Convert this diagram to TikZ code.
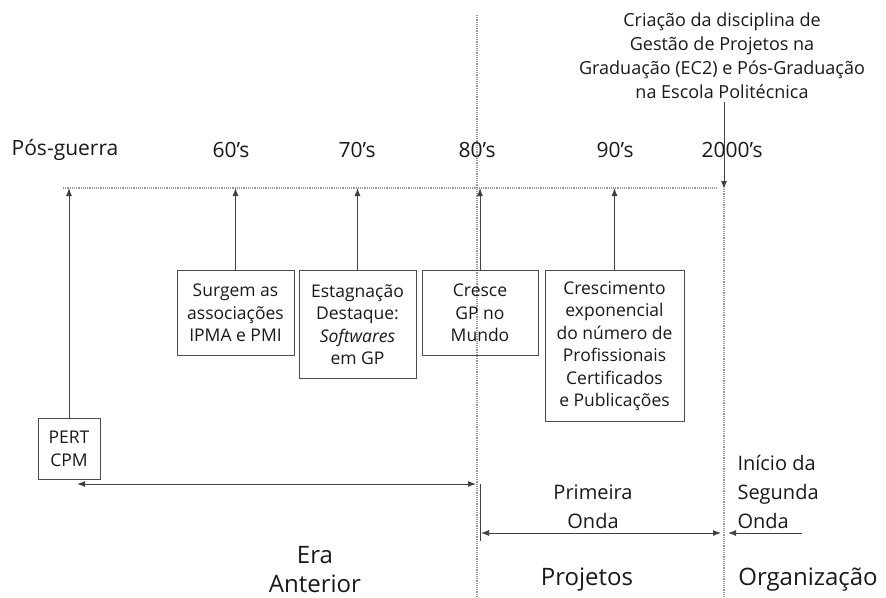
\documentclass[tikz,border=0pt]{standalone}
\usepackage{fontspec}
\setmainfont{Open Sans}
\usetikzlibrary{positioning,arrows.meta}

\begin{document}
\begin{tikzpicture}[x=1pt, y=-1pt, >={Latex[length=8pt,width=6pt]}]
\tikzstyle{box}=[draw=black!70, line width=1pt, align=center, inner sep=1pt, font=\fontsize{17.5}{22.5}\selectfont, text=black!90, anchor=north]
\tikzstyle{dec}=[font=\fontsize{21}{24}\selectfont, text=black!90]
\tikzstyle{txt}=[align=center, font=\fontsize{20}{29}\selectfont, text=black!90]
\tikzstyle{era}=[font=\fontsize{24}{29}\selectfont, text=black!90]
\tikzstyle{seta}=[->, black!75, line width=1pt]
\tikzstyle{pont}=[black!40, densely dotted, line width=1.2pt]
\useasboundingbox (0,0) rectangle (886,597);

% linha do tempo
\coordinate (l0) at (63,188);
\coordinate (l1) at (717,188);
\draw[pont] (l0) -- (l1);
\coordinate (v0) at (477,15);
\coordinate (v1) at (477,597);
\draw[pont] (v0) -- (v1);
\coordinate (w0) at (724,189);
\coordinate (w1) at (724,597);
\draw[pont] (w0) -- (w1);

% decadas
\node[dec] (pg) at (65,150) {Pós-guerra};
\node[dec] (d60) at (231,150) {60’s};
\node[dec] (d70) at (357,150) {70’s};
\node[dec] (d80) at (477,150) {80’s};
\node[dec] (d90) at (615,150) {90’s};
\node[dec] (d00) at (732,150) {2000’s};

\node[align=center, font=\fontsize{18}{24}\selectfont, text=black!90] (criacao) at (722,56)
  {Criação da disciplina de\\Gestão de Projetos na\\Graduação (EC2) e Pós-Graduação\\na Escola Politécnica};
\draw[seta] (criacao.south -| w0) -- (w0);

% caixas
\node[box, minimum width=62, minimum height=61] (pert) at (69,418) {PERT\\CPM};
\node[box, minimum width=117, minimum height=85] (surgem) at (235.5,270) {Surgem as\\associações\\IPMA e PMI};
\node[box, minimum width=117, minimum height=108] (estag) at (357.5,270) {Estagnação\\Destaque:\\\textit{Softwares}\\em GP};
\node[box, minimum width=116, minimum height=85] (cresce) at (480,270) {Cresce\\GP no\\Mundo};
\node[box, minimum width=139, minimum height=151] (cresc) at (614.5,270) {Crescimento\\exponencial\\do número de\\Profissionais\\Certificados\\e Publicações};

\draw[seta] (pert.north) -- (pert.north |- l0);
\draw[seta] (surgem.north) -- (surgem.north |- l0);
\draw[seta] (estag.north) -- (estag.north |- l0);
\draw[seta] (cresce.north) -- (cresce.north |- l0);
\draw[seta] (cresc.north) -- (cresc.north |- l0);

% eras
\coordinate (ea) at (77,484);
\coordinate (eb) at (476,484);
\draw[seta, <->] (ea) -- (eb);
\coordinate (p0) at (480,484);
\coordinate (p1) at (480,541);
\draw[black!75, line width=1pt] (p0) -- (p1);
\coordinate (pa) at (481,533);
\coordinate (pb) at (721,533);
\draw[seta, <->] (pa) -- (pb);
\coordinate (sa) at (802,533);
\coordinate (sb) at (728,533);
\draw[seta] (sa) -- (sb);

\node[txt] (prim) at (593,507) {Primeira\\Onda};
\node[txt, align=left, anchor=west] (seg) at (734,492) {Início da\\Segunda\\Onda};
\node[era, align=center] (ant) at (315,570) {Era\\Anterior};
\node[era] (proj) at (587,580) {Projetos};
\node[era] (org) at (808,580) {Organização};
\end{tikzpicture}
\end{document}
